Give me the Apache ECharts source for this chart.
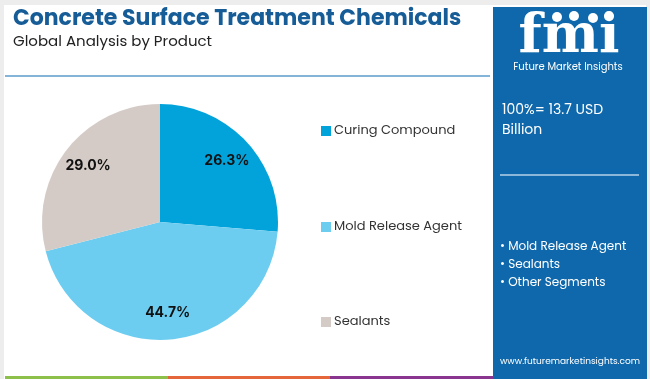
<!DOCTYPE html>
<html><head><meta charset="utf-8">
<script src="https://cdn.jsdelivr.net/npm/echarts@6/dist/echarts.min.js"></script>
<style>html,body{margin:0;padding:0;background:#fff}#c{width:650px;height:379px}</style>
</head><body><div id="c"></div>
<script>
const categories = ['Curing Compound', 'Mold Release Agent', 'Sealants'];
const shares = [26.3, 44.7, 29.0];
const colors = ['#02a3da', '#6dcdf1', '#d4cbc6'];
const panelBullets = ['• Mold Release Agent', '• Sealants', '• Other Segments'];
const totalText = ['100%= 13.7 USD', 'Billion'];

const data = categories.map((n, i) => ({ name: n, value: shares[i], itemStyle: { color: colors[i] } }));
const F = 'Poppins, "Open Sans", "Noto Sans", sans-serif';
const chart = echarts.init(document.getElementById('c'), null, { renderer: 'canvas' });

const legendY = [131, 227, 322];
const graphics = [
  { type: 'rect', shape: { x: 0, y: 0, width: 650, height: 379 }, style: { fill: '#ededed' }, z: -10 },
  { type: 'rect', shape: { x: 4, y: 5, width: 642, height: 374 }, style: { fill: '#ffffff' }, z: -9 },
  { type: 'text', left: 13, top: 8, style: { text: 'Concrete Surface Treatment Chemicals', font: 'bold 22px ' + F, fill: '#165c97' } },
  { type: 'text', left: 13, top: 35, style: { text: 'Global Analysis by Product', font: '15px ' + F, fill: '#222' } },
  { type: 'line', shape: { x1: 5, y1: 76, x2: 490, y2: 76 }, style: { stroke: '#5b9ccc', lineWidth: 1.5 } },
  { type: 'rect', shape: { x: 493, y: 7, width: 154, height: 372 }, style: { fill: '#0e68ab' } },
  { type: 'text', x: 569, y: 38, style: { text: 'fmi', font: 'bold 54px "DejaVu Serif", serif', fill: '#ffffff', align: 'center', verticalAlign: 'middle' } },
  { type: 'circle', shape: { cx: 557, cy: 17, r: 5 }, style: { fill: '#fff' } },
  { type: 'circle', shape: { cx: 574, cy: 16, r: 5 }, style: { fill: '#fff' } },
  { type: 'circle', shape: { cx: 593, cy: 18, r: 5 }, style: { fill: '#fff' } },
  { type: 'text', x: 568, y: 67, style: { text: 'Future Market Insights', font: '10px ' + F, fill: '#ffffff', align: 'center', verticalAlign: 'middle' } },
  { type: 'text', x: 502, y: 110, style: { text: totalText[0], font: '14px ' + F, fill: '#ffffff', verticalAlign: 'middle' } },
  { type: 'text', x: 502, y: 130, style: { text: totalText[1], font: '14px ' + F, fill: '#ffffff', verticalAlign: 'middle' } },
  { type: 'line', shape: { x1: 500, y1: 175, x2: 639, y2: 175 }, style: { stroke: '#b8d2e8', lineWidth: 1.5 } },
  { type: 'text', x: 570, y: 362, style: { text: 'www.futuremarketinsights.com', font: '9px ' + F, fill: '#ffffff', align: 'center', verticalAlign: 'middle' } },
  { type: 'rect', shape: { x: 5, y: 376, width: 163, height: 3 }, style: { fill: '#8cc04b' } },
  { type: 'rect', shape: { x: 168, y: 376, width: 162, height: 3 }, style: { fill: '#e5663a' } },
  { type: 'rect', shape: { x: 330, y: 376, width: 163, height: 3 }, style: { fill: '#8a3590' } }
];
panelBullets.forEach((t, i) => graphics.push({ type: 'text', x: 500, y: 247 + i * 18, style: { text: t, font: '12px ' + F, fill: '#ffffff', verticalAlign: 'middle' } }));
categories.forEach((n, i) => {
  graphics.push({ type: 'rect', shape: { x: 321, y: legendY[i] - 5, width: 10, height: 10 }, style: { fill: colors[i] } });
  graphics.push({ type: 'text', x: 334, y: legendY[i], style: { text: n, font: '13px ' + F, fill: '#333', verticalAlign: 'middle' } });
});

chart.setOption({
  animation: false,
  graphic: graphics,
  series: [
    { type: 'pie', center: [160, 222], radius: [0, 118], startAngle: 90, clockwise: true, data: data,
      label: { show: false }, labelLine: { show: false }, emphasis: { disabled: true } },
    { type: 'pie', center: [160, 222], radius: [58, 118], startAngle: 90, clockwise: true, data: data.map(d => ({ name: d.name, value: d.value, itemStyle: { color: 'rgba(0,0,0,0)' } })),
      label: { show: true, position: 'inside', formatter: p => p.value.toFixed(1) + '%', fontFamily: 'Inter, sans-serif', fontWeight: 'bold', fontSize: 14, color: '#111' },
      labelLine: { show: false }, emphasis: { disabled: true }, silent: true }
  ]
});
</script></body></html>
